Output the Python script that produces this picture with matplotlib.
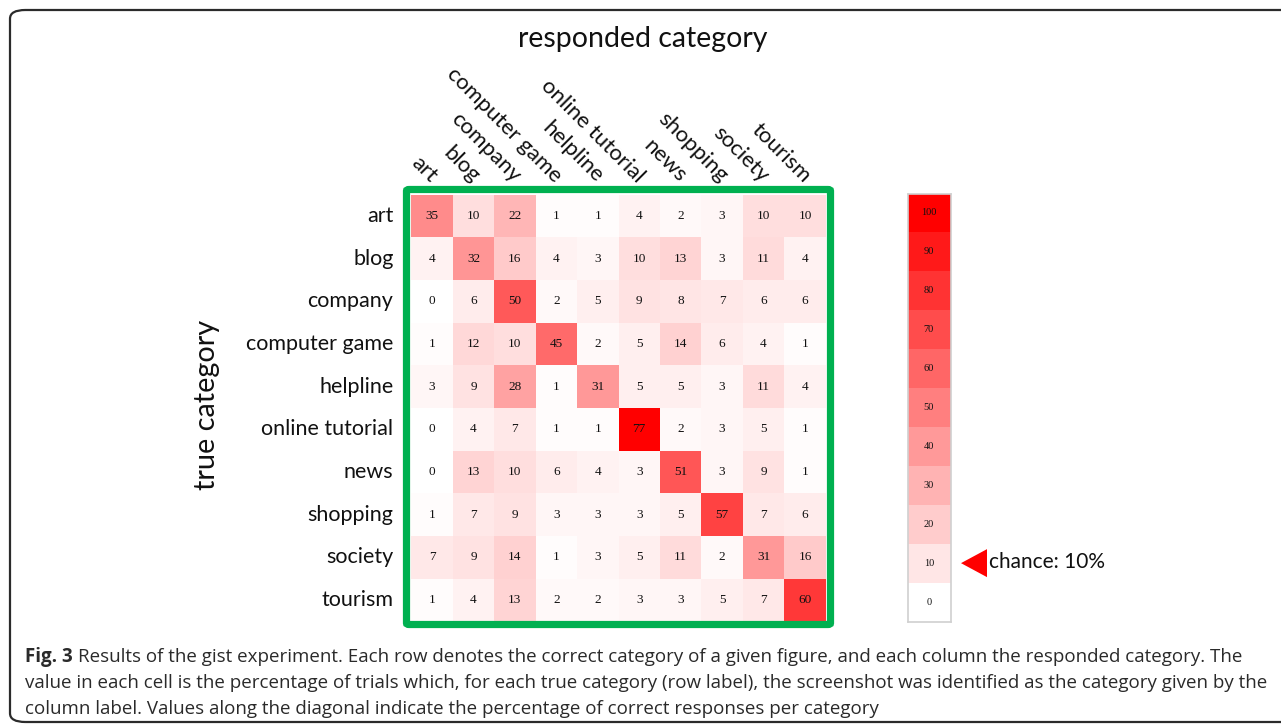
import numpy as np
import matplotlib
matplotlib.use("Agg")
import matplotlib.pyplot as plt
from matplotlib.colors import LinearSegmentedColormap, Normalize
from matplotlib.patches import FancyBboxPatch, Polygon

# Confusion matrix of the gist experiment (percent of trials)
categories = ["art", "blog", "company", "computer game", "helpline",
              "online tutorial", "news", "shopping", "society", "tourism"]

art           = [35, 10, 22, 1, 1, 4, 2, 3, 10, 10]
blog          = [4, 32, 16, 4, 3, 10, 13, 3, 11, 4]
company       = [0, 6, 50, 2, 5, 9, 8, 7, 6, 6]
computer_game = [1, 12, 10, 45, 2, 5, 14, 6, 4, 1]
helpline      = [3, 9, 28, 1, 31, 5, 5, 3, 11, 4]
online_tut    = [0, 4, 7, 1, 1, 77, 2, 3, 5, 1]
news          = [0, 13, 10, 6, 4, 3, 51, 3, 9, 1]
shopping      = [1, 7, 9, 3, 3, 3, 5, 57, 7, 6]
society       = [7, 9, 14, 1, 3, 5, 11, 2, 31, 16]
tourism       = [1, 4, 13, 2, 2, 3, 3, 5, 7, 60]

legend_levels = [0, 10, 20, 30, 40, 50, 60, 70, 80, 90, 100]
chance_level = 10

matrix = np.array([art, blog, company, computer_game, helpline,
                   online_tut, news, shopping, society, tourism])

W, H = 1281, 726
fig = plt.figure(figsize=(W / 100, H / 100), dpi=100)
fig.patch.set_facecolor("white")

def fx(px):
    return px / W

def fy(py):
    return 1 - py / H

sans = ["Lato", "DejaVu Sans"]
serif = ["Liberation Serif", "DejaVu Serif"]

cmap = LinearSegmentedColormap.from_list("white_red", ["#ffffff", "#ff0000"])

# outer frame of the figure panel
frame = FancyBboxPatch((fx(10), fy(722)), fx(1300) - fx(10), fy(10) - fy(722),
                       boxstyle="round,pad=0,rounding_size=0.012",
                       transform=fig.transFigure, fill=False,
                       edgecolor="#2b2b2b", linewidth=1.6)
fig.patches.append(frame)

# heatmap
x0, x1, y0, y1 = 411.3, 825.7, 194.7, 621.3
ax = fig.add_axes([fx(x0), fy(y1), fx(x1) - fx(x0), fy(y0) - fy(y1)])
n = len(categories)
ax.pcolormesh(np.arange(n + 1), np.arange(n + 1), matrix, cmap=cmap,
              norm=Normalize(0, matrix.max()))
ax.set_xlim(0, n)
ax.set_ylim(n, 0)
for i in range(n):
    for j in range(n):
        ax.text(j + 0.5, i + 0.5, str(matrix[i, j]), ha="center", va="center",
                fontsize=9.5, family=serif, color="#111111")
ax.set_xticks([])
ax.set_yticks([])
for s in ax.spines.values():
    s.set_visible(False)

# green border around the matrix
green = FancyBboxPatch((fx(406.5), fy(624.5)), fx(830.5) - fx(406.5),
                       fy(189.5) - fy(624.5),
                       boxstyle="round,pad=0,rounding_size=0.002",
                       transform=fig.transFigure, fill=False,
                       edgecolor="#00b050", linewidth=5.2, zorder=5)
fig.patches.append(green)

# row labels
for i, name in enumerate(categories):
    ax.text(-0.43, i + 0.5, name, ha="right", va="center", fontsize=15.5,
            family=sans, color="#111111")

# column labels, rotated
for j, name in enumerate(categories):
    ax.text(j + 0.38, -0.2, name, ha="right", va="bottom", rotation=-45,
            rotation_mode="anchor", fontsize=16, family=sans, color="#111111",
            transform=ax.transData)

fig.text(fx(643), fy(39), "responded category", ha="center", va="center",
         fontsize=20.5, family=sans, color="#111111")
fig.text(fx(207), fy(405), "true category", ha="center", va="center",
         rotation=90, fontsize=20.8, family=sans, color="#111111")

# colour scale legend
lx0, lx1, ly0, ly1 = 907.5, 950.5, 193.5, 621.5
lax = fig.add_axes([fx(lx0), fy(ly1), fx(lx1) - fx(lx0), fy(ly0) - fy(ly1)])
levels = np.array(legend_levels[::-1])[:, None]
lax.pcolormesh(np.arange(2), np.arange(len(levels) + 1), levels, cmap=cmap,
               norm=Normalize(0, 100))
lax.set_xlim(0, 1)
lax.set_ylim(len(levels), 0)
for k, v in enumerate(levels[:, 0]):
    lax.text(0.5, k + 0.5, str(v), ha="center", va="center", fontsize=7.5,
             family=serif, color="#111111")
lax.set_xticks([])
lax.set_yticks([])
for s in lax.spines.values():
    s.set_color("#d0d0d0")
    s.set_linewidth(1.2)

# chance marker
k_chance = legend_levels[::-1].index(chance_level)
cy = ly0 + (k_chance + 0.5) * (ly1 - ly0) / len(legend_levels)
tri = Polygon([[fx(961), fy(cy)], [fx(987), fy(cy - 14)], [fx(987), fy(cy + 14)]],
              closed=True, transform=fig.transFigure, facecolor="#ff0000",
              edgecolor="none")
fig.patches.append(tri)
fig.text(fx(989), fy(cy - 1), f"chance: {chance_level}%", ha="left", va="center",
         fontsize=15, family=sans, color="#111111")

# caption
cap_kw = dict(fontsize=13.5, family=["Open Sans", "DejaVu Sans"], color="#2a2a2a",
              ha="left", va="baseline")
t = fig.text(fx(25), fy(662), "Fig. 3", fontweight="bold", **cap_kw)
fig.canvas.draw()
bb = t.get_window_extent()
fig.text(fx(25) + (bb.width + 5) / W, fy(662),
         "Results of the gist experiment. Each row denotes the correct category of a given figure, "
         "and each column the responded category. The", **cap_kw)
fig.text(fx(25), fy(688),
         "value in each cell is the percentage of trials which, for each true category (row label), "
         "the screenshot was identified as the category given by the", **cap_kw)
fig.text(fx(25), fy(714),
         "column label. Values along the diagonal indicate the percentage of correct responses per category",
         **cap_kw)

fig.savefig("out.png", dpi=100, facecolor="white")
